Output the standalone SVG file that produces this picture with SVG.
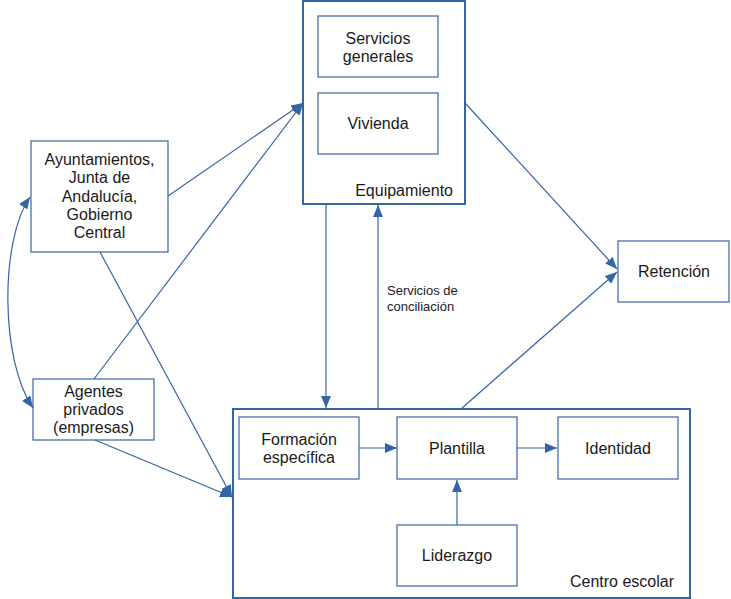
<svg xmlns="http://www.w3.org/2000/svg" width="731" height="599" viewBox="0 0 731 599">
<style>
.box{fill:#fff;stroke:#3465a4;stroke-width:1.2}
.outer{fill:#fff;stroke:#3465a4;stroke-width:2}
.t{font-family:"Liberation Sans",Arial,sans-serif;font-size:16px;fill:#1a1a1a;text-anchor:middle}
.lbl{font-family:"Liberation Sans",Arial,sans-serif;font-size:13px;fill:#1a1a1a}
.c{fill:none;stroke:#3465a4;stroke-width:1.2}
</style>
<defs>
<marker id="ah" viewBox="0 0 12 10" refX="12" refY="5" markerWidth="12" markerHeight="10" markerUnits="userSpaceOnUse" orient="auto-start-reverse">
<path d="M0,0 L12,5 L0,10 Z" fill="#3465a4"/>
</marker>
</defs>
<rect width="731" height="599" fill="#fff"/>
<g id="equipamiento">
<rect class="outer" x="303" y="1" width="162" height="203"/>
<text class="t" x="453" y="196" style="text-anchor:end">Equipamiento</text>
</g>
<g id="servicios-generales">
<rect class="box" x="318" y="16" width="120" height="61"/>
<text class="t" x="378" y="43.5">Servicios</text>
<text class="t" x="378" y="61.5">generales</text>
</g>
<g id="vivienda">
<rect class="box" x="318" y="93" width="120" height="61"/>
<text class="t" x="378" y="129">Vivienda</text>
</g>
<g id="centro-escolar">
<rect class="outer" x="233" y="409" width="457" height="189"/>
<text class="t" x="674" y="587" style="text-anchor:end">Centro escolar</text>
</g>
<g id="formacion">
<rect class="box" x="239" y="417" width="120" height="62"/>
<text class="t" x="299" y="445">Formación</text>
<text class="t" x="299" y="463">específica</text>
</g>
<g id="plantilla">
<rect class="box" x="397" y="417" width="120" height="62"/>
<text class="t" x="457" y="454">Plantilla</text>
</g>
<g id="identidad">
<rect class="box" x="558" y="417" width="120" height="62"/>
<text class="t" x="618" y="454">Identidad</text>
</g>
<g id="liderazgo">
<rect class="box" x="397" y="525" width="120" height="61"/>
<text class="t" x="457" y="561">Liderazgo</text>
</g>
<g id="retencion">
<rect class="box" x="618" y="241" width="111" height="61"/>
<text class="t" x="674" y="277">Retención</text>
</g>
<g id="administraciones">
<rect class="box" x="31" y="141" width="137" height="111"/>
<text class="t" x="99.5" y="165">Ayuntamientos,</text>
<text class="t" x="99.5" y="183.3">Junta de</text>
<text class="t" x="99.5" y="201.6">Andalucía,</text>
<text class="t" x="99.5" y="219.9">Gobierno</text>
<text class="t" x="99.5" y="238.2">Central</text>
</g>
<g id="agentes">
<rect class="box" x="33" y="379" width="121" height="61"/>
<text class="t" x="93.5" y="397">Agentes</text>
<text class="t" x="93.5" y="415">privados</text>
<text class="t" x="93.5" y="433">(empresas)</text>
</g>
<g id="connectors">
<path class="c" d="M30,197 C0,240 0,360 33,408" marker-start="url(#ah)" marker-end="url(#ah)"/>
<path class="c" d="M168,196 L303,103" marker-end="url(#ah)"/>
<path class="c" d="M94,379 L303,103" marker-end="url(#ah)"/>
<path class="c" d="M100,252 L232,497" marker-end="url(#ah)"/>
<path class="c" d="M95,440 L232,497" marker-end="url(#ah)"/>
<path class="c" d="M326,204 L326,408" marker-end="url(#ah)"/>
<path class="c" d="M378,408 L378,205" marker-end="url(#ah)"/>
<path class="c" d="M465,103 L617,269" marker-end="url(#ah)"/>
<path class="c" d="M462,408 L617,272" marker-end="url(#ah)"/>
<path class="c" d="M359,448 L397,448" marker-end="url(#ah)"/>
<path class="c" d="M517,448 L557,448" marker-end="url(#ah)"/>
<path class="c" d="M457,525 L457,480" marker-end="url(#ah)"/>
<text class="lbl" x="387" y="295">Servicios de</text>
<text class="lbl" x="387" y="311">conciliación</text>
</g>
</svg>
